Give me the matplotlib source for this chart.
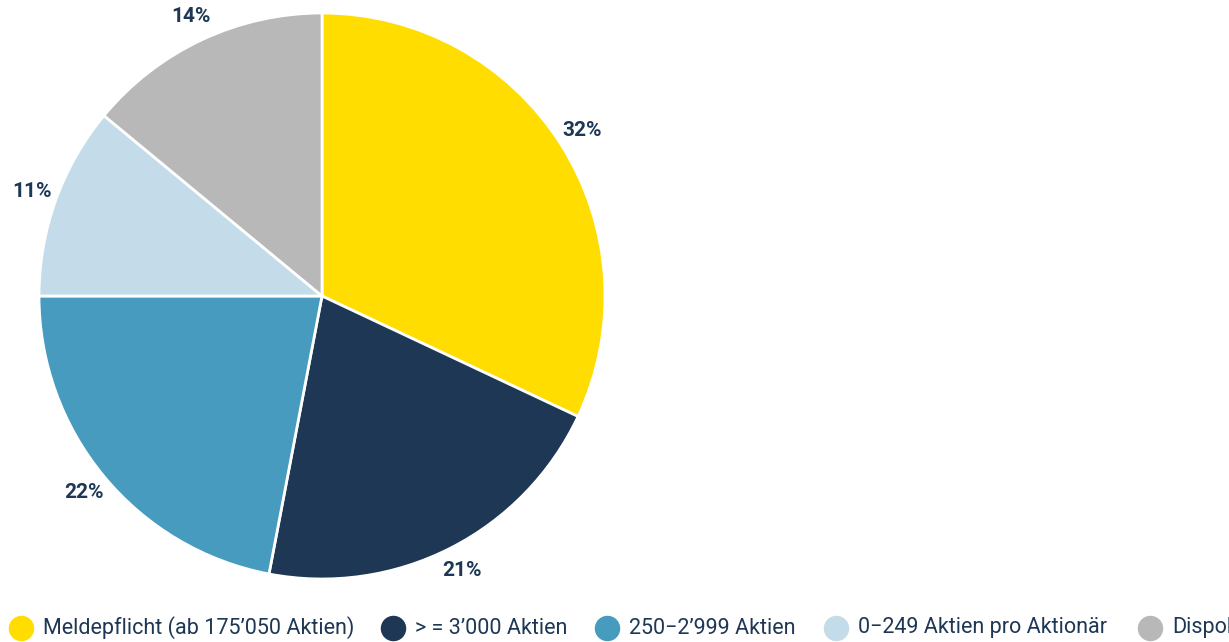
import matplotlib.pyplot as plt

# --- Data ---
labels = [
    "Meldepflicht (ab 175\u2019050 Aktien)",
    "> = 3\u2019000 Aktien",
    "250\u22122\u2019999 Aktien",
    "0\u2212249 Aktien pro Aktion\u00e4r",
    "Dispobestand",
]
shares = [32, 21, 22, 11, 14]
colors = ["#FFDD00", "#1D3755", "#479BBE", "#C4DCEA", "#B8B8B8"]
text_color = "#1D3755"

legend_marker_x = [21, 393, 607, 836, 1150]
legend_y = 628


def main() -> None:
    plt.rcParams["font.family"] = ["Roboto", "DejaVu Sans"]
    W, H = 1229, 642
    fig = plt.figure(figsize=(W / 100, H / 100), dpi=100)

    # pie axes: centre (322, 296), radius 283 px
    cx, cy, r = 322, 296, 283
    ax = fig.add_axes([(cx - r) / W, (H - cy - r) / H, 2 * r / W, 2 * r / H])
    _, texts = ax.pie(
        shares,
        colors=colors,
        startangle=90,
        counterclock=False,
        labels=[f"{v}%" for v in shares],
        labeldistance=1.09,
        wedgeprops={"edgecolor": "white", "linewidth": 2},
        textprops={"color": text_color, "fontsize": 15, "fontweight": "bold"},
    )
    for t in texts:
        t.set_horizontalalignment("center")
        t.set_verticalalignment("center")
    ax.set_xlim(-1, 1)
    ax.set_ylim(-1, 1)
    ax.set_aspect("equal")
    ax.axis("off")

    # legend overlay in pixel coordinates
    lax = fig.add_axes([0, 0, 1, 1])
    lax.set_xlim(0, W)
    lax.set_ylim(H, 0)
    lax.axis("off")
    lax.patch.set_alpha(0)
    for x, lab, col in zip(legend_marker_x, labels, colors):
        lax.scatter([x], [legend_y], s=300, color=col, clip_on=False)
        lax.text(x + 22, legend_y, lab, color=text_color, fontsize=15.5,
                 va="center", ha="left", clip_on=False)

    fig.savefig("out.png", dpi=100)
    plt.close(fig)


if __name__ == "__main__":
    main()
